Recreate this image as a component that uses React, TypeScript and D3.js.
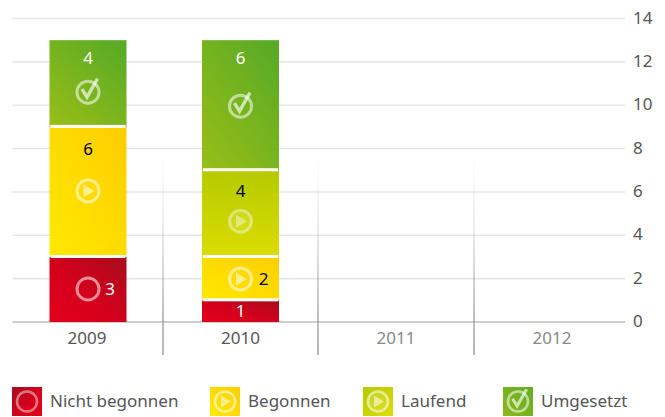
import React from "react";
import * as d3 from "d3";

const years = ["2009", "2010", "2011", "2012"];
const activeYears = ["2009", "2010"];
const statuses = ["Nicht begonnen", "Begonnen", "Laufend", "Umgesetzt"];
const nichtBegonnen = [3, 1, 0, 0];
const begonnen = [6, 2, 0, 0];
const laufend = [0, 4, 0, 0];
const umgesetzt = [4, 6, 0, 0];
const yTicks = [0, 2, 4, 6, 8, 10, 12, 14];

const W = 665, H = 417;
const FONT = "'Noto Sans', sans-serif";
const y = d3.scaleLinear().domain([0, 14]).range([322, 18.5]);
const x = d3.scaleBand().domain(years).range([10, 630]).paddingInner(0).paddingOuter(0);
const barW = 77;
const cx = (yr: string) => (yr === "2009" ? 88 : yr === "2010" ? 240.5 : yr === "2011" ? 396 : 552);

const rows = years.map((year, i) => ({
  year,
  "Nicht begonnen": nichtBegonnen[i],
  Begonnen: begonnen[i],
  Laufend: laufend[i],
  Umgesetzt: umgesetzt[i],
}));
const stacked = d3.stack<any>().keys(statuses)(rows);

const grads = ["g0", "g1", "g2", "g3"];
const textFill = ["#fff", "#000", "#000", "#fff"];
const iconKind = ["ring", "play", "play", "check"];
// per [status][year]: offsets in px from the segment's top, for label, icon; label dx
const labelDy: Record<string, number[]> = {
  "0-2009": [32, 32, 22],
  "1-2009": [22, 64, 0],
  "3-2009": [18, 52, 0],
  "0-2010": [11, -99, 0],
  "1-2010": [22, 22, 23],
  "2-2010": [21, 51, 0],
  "3-2010": [18, 66, 0],
};

function Icon({ kind, cx: px, cy, r = 11, sw = 3, op = 0.55, playOp }: any) {
  const s = r / 11;
  return (
    <g transform={`translate(${px},${cy})`}>
      <circle r={r} fill={kind === "play" && playOp ? "rgba(255,255,255,0.12)" : "none"} stroke="#fff" strokeOpacity={op} strokeWidth={sw} />
      {kind === "play" && (
        <path d={`M${-4.5 * s},${-6.5 * s}L${6.5 * s},0L${-4.5 * s},${6.5 * s}Z`} fill="#fff" fillOpacity={op} />
      )}
      {kind === "check" && (
        <path
          d={`M${-6 * s},${-3 * s}L${-1 * s},${5 * s}L${9.5 * s},${-13.5 * s}`}
          fill="none"
          stroke="#fff"
          strokeOpacity={op + 0.1}
          strokeWidth={3.4 * s}
        />
      )}
    </g>
  );
}

const legendX = [12, 210, 363, 503];

export default function App() {
  return (
    <svg
      width={W}
      height={H}
      viewBox={`0 0 ${W} ${H}`}
      style={{ position: "absolute", left: 0, top: 0, fontFamily: FONT, display: "block" }}
    >
      <defs>
        <linearGradient id="g0" x1="0" y1="1" x2="1" y2="0">
          <stop offset="0" stopColor="#e4001b" />
          <stop offset="0.45" stopColor="#d4001b" />
          <stop offset="1" stopColor="#a80d1e" />
        </linearGradient>
        <linearGradient id="g1" x1="0" y1="1" x2="1" y2="0">
          <stop offset="0" stopColor="#ffe900" />
          <stop offset="1" stopColor="#ffcd00" />
        </linearGradient>
        <linearGradient id="g2" x1="0" y1="0" x2="0" y2="1">
          <stop offset="0" stopColor="#b4cb00" />
          <stop offset="1" stopColor="#dcdc00" />
        </linearGradient>
        <linearGradient id="g3" x1="0.1" y1="1" x2="0.9" y2="0">
          <stop offset="0" stopColor="#97bd17" />
          <stop offset="1" stopColor="#58aa26" />
        </linearGradient>
        <linearGradient id="lg0" x1="0" y1="0" x2="1" y2="1">
          <stop offset="0" stopColor="#a80d1e" />
          <stop offset="0.6" stopColor="#d8001b" />
          <stop offset="1" stopColor="#e4001b" />
        </linearGradient>
        <linearGradient id="lg1" x1="0" y1="1" x2="1" y2="0">
          <stop offset="0" stopColor="#ffe900" />
          <stop offset="1" stopColor="#ffcd00" />
        </linearGradient>
        <linearGradient id="lg2" x1="0" y1="0" x2="1" y2="1">
          <stop offset="0" stopColor="#b4cb00" />
          <stop offset="1" stopColor="#e0dc00" />
        </linearGradient>
        <linearGradient id="lg3" x1="0" y1="1" x2="1" y2="0">
          <stop offset="0" stopColor="#8cb81a" />
          <stop offset="1" stopColor="#62ad24" />
        </linearGradient>
        <linearGradient id="div" x1="0" y1="0" x2="0" y2="1">
          <stop offset="0" stopColor="#999" stopOpacity="0" />
          <stop offset="0.35" stopColor="#999" stopOpacity="0.3" />
          <stop offset="0.8" stopColor="#888" stopOpacity="0.9" />
          <stop offset="1" stopColor="#888" stopOpacity="1" />
        </linearGradient>
      </defs>

      {yTicks.map((t) => (
        <g key={t}>
          <line
            x1={12.5}
            x2={625}
            y1={y(t)}
            y2={y(t)}
            stroke={t === 0 ? "#bdbdbd" : "#e6e6e6"}
            strokeWidth={1.6}
          />
          <text x={633} y={y(t) + 5} fontSize={17} fill="#555">
            {t}
          </text>
        </g>
      ))}

      {[163, 318, 474].map((dx) => (
        <rect key={dx} x={dx - 0.6} y={155} width={1.2} height={200} fill="url(#div)" />
      ))}

      {stacked.map((layer, si) =>
        layer.map((d, i) => {
          const yr = years[i];
          if (d[1] === d[0] || !activeYears.includes(yr)) return null;
          const top = y(d[1]);
          const bottom = y(d[0]);
          const hasBelow = d[0] > 0;
          const o = labelDy[`${si}-${yr}`];
          return (
            <g key={`${si}-${yr}`}>
              <rect
                x={cx(yr) - barW / 2}
                y={top}
                width={barW}
                height={bottom - top}
                fill={`url(#${grads[si]})`}
              />
              {hasBelow && <rect x={cx(yr) - barW / 2 + 1} y={bottom - 2} width={barW - 2} height={3} fill="#fff" />}
              {o[1] > 0 && (
                <Icon kind={iconKind[si]} cx={cx(yr)} cy={top + o[1]} playOp={si === 2} op={si === 2 ? 0.4 : 0.55} />
              )}
              <text
                x={cx(yr) + o[2]}
                y={top + o[0] + 6}
                textAnchor="middle"
                fontSize={17}
                fill={textFill[si]}
              >
                {d[1] - d[0]}
              </text>
            </g>
          );
        })
      )}

      {years.map((yr) => (
        <text
          key={yr}
          x={cx(yr) - (yr === "2009" ? 1 : 0)}
          y={344}
          textAnchor="middle"
          fontSize={17}
          fill={activeYears.includes(yr) ? "#555" : "#888"}
        >
          {yr}
        </text>
      ))}

      {statuses.map((s, i) => (
        <g key={s}>
          <rect x={legendX[i]} y={387} width={30} height={29} fill={`url(#lg${i})`} />
          <Icon kind={iconKind[i]} cx={legendX[i] + 15} cy={401.5} r={10} sw={2.6} playOp={i === 2} op={i === 0 ? 0.45 : 0.55} />
          <text x={legendX[i] + 38} y={407} fontSize={17} fill="#555">
            {s}
          </text>
        </g>
      ))}
    </svg>
  );
}
